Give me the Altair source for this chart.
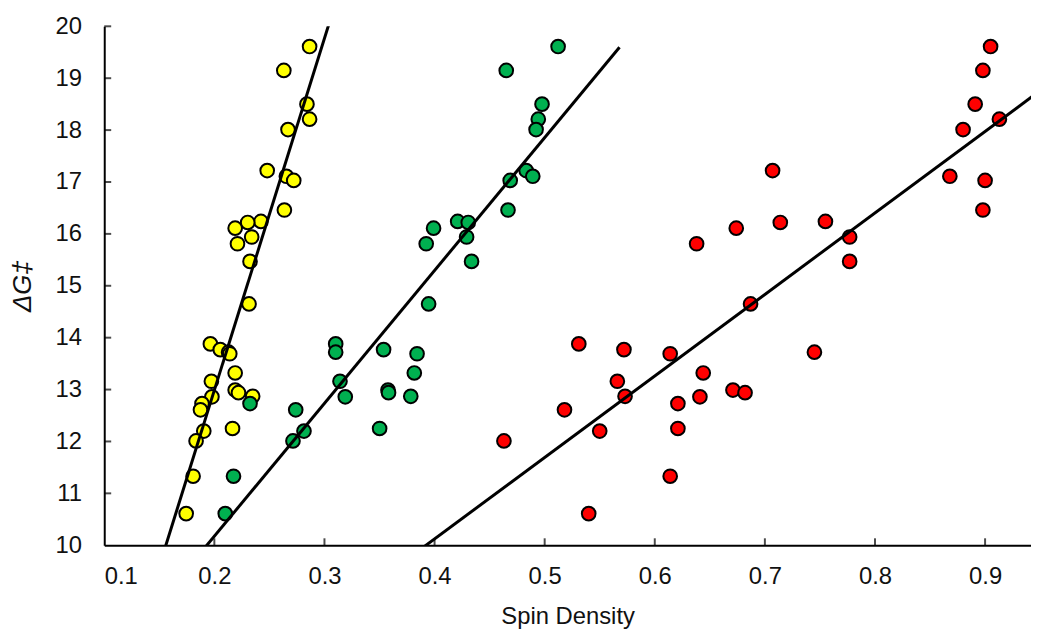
import altair as alt
import pandas as pd

# Shared ΔG‡ values (one per compound)
dg = [19.61, 19.15, 18.50, 18.21, 18.01, 17.22, 17.11, 17.03, 16.46, 16.24, 16.22,
      16.11, 15.94, 15.81, 15.47, 14.65, 13.88, 13.77, 13.72, 13.69, 13.32, 13.16,
      12.99, 12.94, 12.87, 12.86, 12.73, 12.61, 12.25, 12.20, 12.01, 11.33, 10.61]

# Spin density per series, in the same order as dg
yellow_x = [0.2865, 0.2631, 0.2841, 0.2865, 0.2669, 0.2480, 0.2654, 0.2721, 0.2636, 0.2423, 0.2303,
            0.2189, 0.2339, 0.2210, 0.2324, 0.2315, 0.1964, 0.2054, 0.2129, 0.2140, 0.2189, 0.1973,
            0.2189, 0.2219, 0.2348, 0.1978, 0.1888, 0.1874, 0.2165, 0.1904, 0.1834, 0.1807, 0.1744]
green_x = [0.5122, 0.4651, 0.4976, 0.4942, 0.4922, 0.4832, 0.4892, 0.4687, 0.4667, 0.4210, 0.4306,
           0.3991, 0.4291, 0.3924, 0.4336, 0.3946, 0.3102, 0.3537, 0.3102, 0.3841, 0.3816, 0.3141,
           0.3577, 0.3582, 0.3784, 0.3189, 0.2324, 0.2739, 0.3501, 0.2814, 0.2714, 0.2174, 0.2099]
red_x = [0.905, 0.898, 0.891, 0.913, 0.880, 0.707, 0.868, 0.900, 0.898, 0.755, 0.714,
         0.674, 0.777, 0.638, 0.777, 0.687, 0.531, 0.572, 0.745, 0.614, 0.644, 0.566,
         0.671, 0.682, 0.573, 0.641, 0.621, 0.518, 0.621, 0.550, 0.463, 0.614, 0.540]

series_names = ["Yellow", "Green", "Red"]
series_colors = ["#FFFF00", "#00B050", "#FF0000"]
series_x = [yellow_x, green_x, red_x]
# right end of each trendline (forward forecast)
line_max = [0.34, 0.568, 0.99]

x_ticks = [0.2, 0.3, 0.4, 0.5, 0.6, 0.7, 0.8, 0.9]
y_ticks = [11, 12, 13, 14, 15, 16, 17, 18, 19, 20]
x_label_values = [0.1, 0.2, 0.3, 0.4, 0.5, 0.6, 0.7, 0.8, 0.9]
y_label_values = [10, 11, 12, 13, 14, 15, 16, 17, 18, 19, 20]

frames = []
for name, xs in zip(series_names, series_x):
    frames.append(pd.DataFrame({"series": name, "x": xs, "dg": dg}))
df = pd.concat(frames, ignore_index=True)

FONT = "Liberation Sans"
xscale = alt.Scale(domain=[0.1, 0.9417], nice=False, zero=False)
yscale = alt.Scale(domain=[10, 20], nice=False, zero=False)

points = alt.Chart(df).mark_circle(
    size=190, stroke="black", strokeWidth=2, opacity=1
).encode(
    x=alt.X("x:Q", scale=xscale, title="Spin Density",
            axis=alt.Axis(values=x_label_values, format=".1f", grid=False, ticks=False,
                          domainColor="black", domainWidth=2, labelFontSize=24,
                          labelColor="#111111", labelPadding=20, labelFont=FONT,
                          titleFont=FONT, titleFontSize=24, titleFontWeight="normal",
                          titleColor="#111111", titlePadding=16)),
    y=alt.Y("dg:Q", scale=yscale, title="ΔG‡",
            axis=alt.Axis(values=y_label_values, grid=False, ticks=False,
                          domainColor="black", domainWidth=2, labelFontSize=24,
                          labelColor="#111111", labelPadding=23, labelFont=FONT,
                          titleFont=FONT, titleFontSize=26, titleFontWeight="normal",
                          titleFontStyle="italic", titleColor="#111111", titlePadding=20)),
    fill=alt.Fill("series:N", scale=alt.Scale(domain=series_names, range=series_colors),
                  legend=None),
)

lines = []
for name, xs, mx in zip(series_names, series_x, line_max):
    sub = pd.DataFrame({"x": xs, "dg": dg})
    lines.append(
        alt.Chart(sub).transform_regression("x", "dg", extent=[0.1, mx])
        .mark_line(color="black", strokeWidth=3, clip=True)
        .encode(x=alt.X("x:Q", scale=xscale), y=alt.Y("dg:Q", scale=yscale))
    )

xt = alt.Chart(pd.DataFrame({"x": x_ticks})).mark_tick(
    orient="vertical", size=7, thickness=2, color="black", yOffset=-3.5
).encode(x=alt.X("x:Q", scale=xscale), y=alt.datum(10))

yt = alt.Chart(pd.DataFrame({"dg": y_ticks})).mark_tick(
    orient="horizontal", size=7, thickness=2, color="black", xOffset=3.5
).encode(y=alt.Y("dg:Q", scale=yscale), x=alt.datum(0.1))

chart = alt.layer(points, *lines, xt, yt).properties(
    width=934, height=523,
    autosize=alt.AutoSizeParams(type="none"),
    padding={"left": 97, "top": 16, "right": 0, "bottom": 87},
).configure_view(stroke=None)

chart.save("out.html", embed_options={"renderer": "svg", "actions": False})
